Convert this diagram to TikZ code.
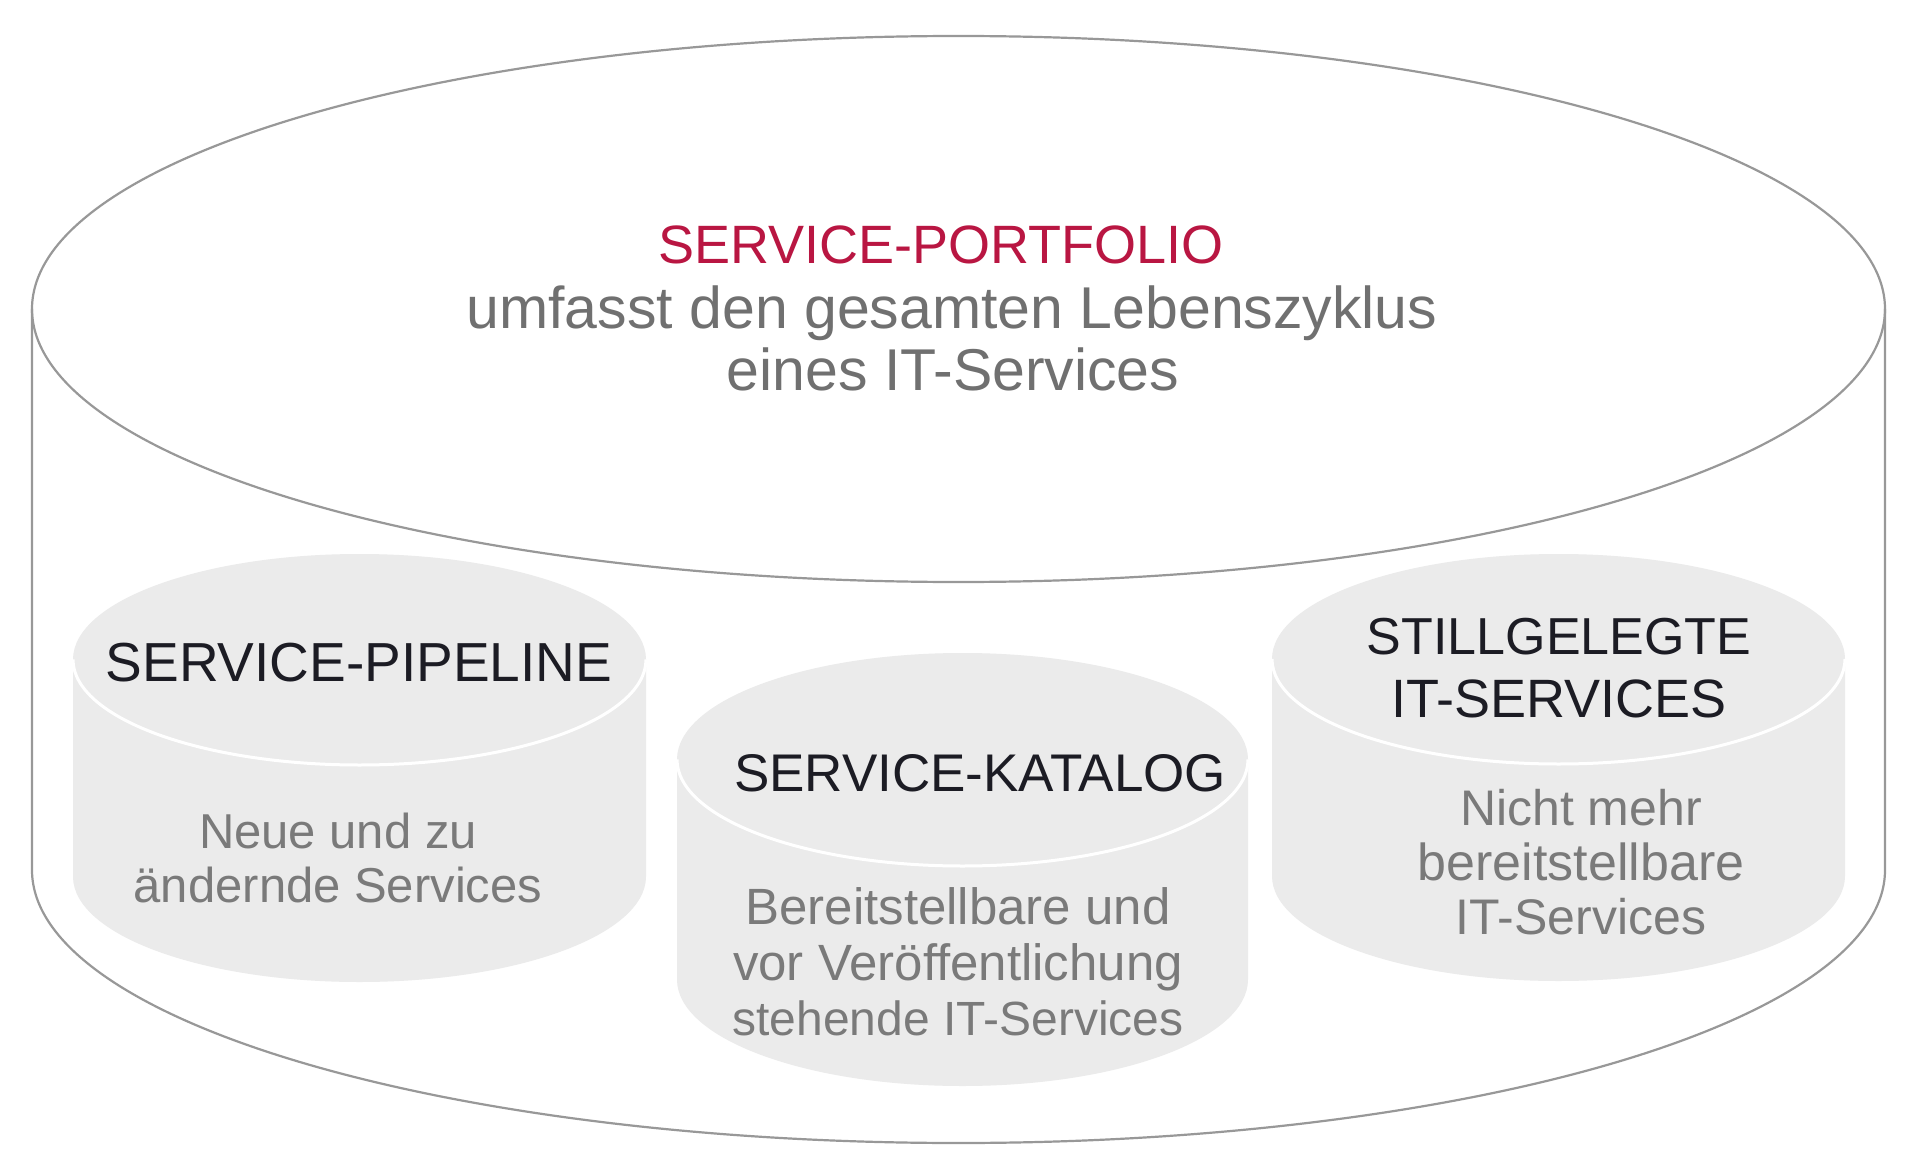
\documentclass[tikz,border=0pt]{standalone}
\usepackage{fontspec}
\setmainfont{Liberation Sans}
\definecolor{rimgray}{HTML}{989898}
\definecolor{cylfill}{HTML}{EBEBEB}
\definecolor{titlered}{RGB}{185,22,66}
\definecolor{subgray}{HTML}{707070}
\definecolor{bodygray}{HTML}{7A7A7A}
\definecolor{darktext}{HTML}{1C1C24}
\begin{document}
\begin{tikzpicture}[x=1pt,y=-1pt,
  txt/.style={inner sep=0pt,anchor=base,align=center},
  bigtitle/.style={txt,text=titlered,font=\fontsize{54}{60}\selectfont},
  subtxt/.style={txt,text=subgray,font=\fontsize{59}{64}\selectfont},
  cyltitle/.style={txt,text=darktext,font=\fontsize{54}{60}\selectfont},
  bodytxt/.style={txt,text=bodygray,font=\fontsize{50}{55}\selectfont},
  rim/.style={draw=rimgray,line width=2.2pt},
  smallcyl/.style={fill=cylfill},
  toparc/.style={draw=white,line width=3pt}]
\useasboundingbox (0,0) rectangle (1920,1174);
\fill[white] (0,0) rectangle (1920,1174);

% big cylinder
\draw[rim] (958.5,309) ellipse [x radius=926.5pt, y radius=273pt];
\draw[rim] (32,309) -- (32,870) arc[start angle=180, end angle=360, x radius=926.5pt, y radius=273pt] -- (1885,309);

% small cylinders
\newcommand{\mycyl}[5]{%
  \fill[smallcyl] ({#1-#3},#2) arc[start angle=180, end angle=0, x radius=#3 pt, y radius=#4 pt]
     -- ({#1+#3},#5) arc[start angle=0, end angle=-180, x radius=#3 pt, y radius=#4 pt] -- cycle;
  \draw[toparc] ({#1-#3},#2) arc[start angle=180, end angle=360, x radius=#3 pt, y radius=#4 pt];
}
\mycyl{359.5}{659.5}{286.5}{105.5}{876.5}
\mycyl{962.5}{759.5}{285.5}{106.5}{979.5}
\mycyl{1558.5}{659}{286.5}{105}{876}

% main texts
\node[bigtitle] (portfolio) at (941,264) {SERVICE-PORTFOLIO};
\node[subtxt] (sub1) at (952,329) {umfasst den gesamten Lebenszyklus};
\node[subtxt] (sub2) at (953,390) {eines IT-Services};

% pipeline
\node[cyltitle,font=\fontsize{55}{60}\selectfont] (pipe) at (359,681) {SERVICE-PIPELINE};
\node[bodytxt,font=\fontsize{49}{54}\selectfont] (pipe1) at (338,848) {Neue und zu};
\node[bodytxt,font=\fontsize{49}{54}\selectfont] (pipe2) at (338,902) {ändernde Services};

% katalog
\node[cyltitle,font=\fontsize{53}{58}\selectfont] (kat) at (980,791) {SERVICE-KATALOG};
\node[bodytxt,font=\fontsize{51}{56}\selectfont] (kat1) at (958,924) {Bereitstellbare und};
\node[bodytxt,font=\fontsize{51}{56}\selectfont] (kat2) at (958,980) {vor Veröffentlichung};
\node[bodytxt,font=\fontsize{48}{54}\selectfont] (kat3) at (958,1035) {stehende IT-Services};

% stillgelegte
\node[cyltitle,font=\fontsize{52}{58}\selectfont] (still1) at (1559,654) {STILLGELEGTE};
\node[cyltitle] (still2) at (1559,717) {IT-SERVICES};
\node[bodytxt] (st1) at (1581,825) {Nicht mehr};
\node[bodytxt,font=\fontsize{52}{56}\selectfont] (st2) at (1581,880) {bereitstellbare};
\node[bodytxt] (st3) at (1581,934) {IT-Services};
\end{tikzpicture}
\end{document}
